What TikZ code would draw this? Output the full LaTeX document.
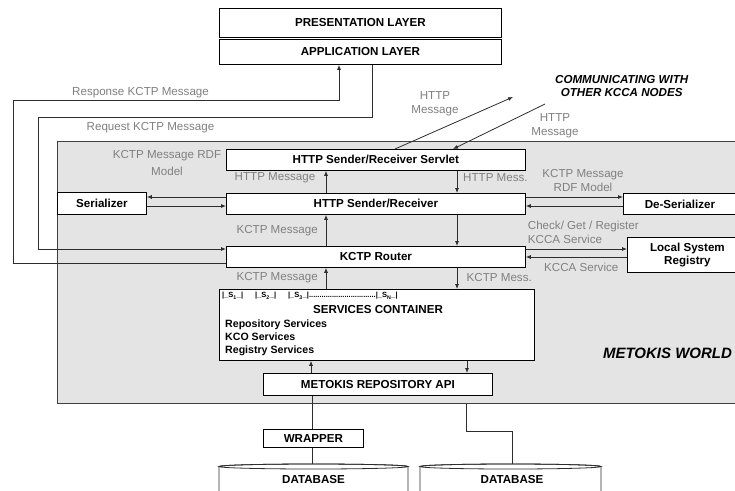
\documentclass[tikz,border=0pt]{standalone}
\usepackage{fontspec}
\setmainfont{Liberation Sans}
\usetikzlibrary{arrows.meta}
\definecolor{worldgray}{RGB}{228,228,228}
\definecolor{lblgray}{RGB}{128,128,128}
\definecolor{linegray}{RGB}{45,45,45}
\newcommand{\svcslot}[1]{|\_S\textsubscript{#1}\_|}
\begin{document}
\begin{tikzpicture}[x=1pt,y=-1pt,
  box/.style={draw=black, line width=0.8pt, fill=white, inner sep=0pt, anchor=north west, align=center,
    font=\bfseries\fontsize{11.6}{13}\selectfont},
  lbl/.style={text=lblgray, inner sep=0pt, align=center, font=\fontsize{11.6}{14}\selectfont},
  arr/.style={draw=linegray, line width=0.8pt, -{Latex[length=5pt,width=4pt]}},
  ln/.style={draw=linegray, line width=0.8pt},
  boldtxt/.style={inner sep=0pt, font=\bfseries\fontsize{11.6}{13}\selectfont},
]
\useasboundingbox (0,0) rectangle (735,490);

% world area
\node[draw=black!75, line width=0.9pt, fill=worldgray, inner sep=0pt, anchor=north west,
  minimum width=700pt, minimum height=262pt] (world) at (57,141) {};

% boxes
\node[box, minimum width=282pt, minimum height=29pt] (pres) at (219,8) {PRESENTATION LAYER};
\node[box, minimum width=282pt, minimum height=25pt] (app) at (219,39) {APPLICATION LAYER};
\node[box, minimum width=299pt, minimum height=21pt] (servlet) at (226,149) {HTTP Sender/Receiver Servlet};
\node[box, minimum width=299pt, minimum height=21pt] (hsr) at (226,193) {HTTP Sender/Receiver};
\node[box, minimum width=299pt, minimum height=21pt] (router) at (226,246) {KCTP Router};
\node[box, minimum width=89pt, minimum height=22pt] (ser) at (57,192) {Serializer};
\node[box, minimum width=113pt, minimum height=21pt] (deser) at (623,193) {De-Serializer};
\node[box, minimum width=120pt, minimum height=35pt] (lsr) at (627,237) {Local System\\Registry};
\node[box, minimum width=315pt, minimum height=71pt] (svc) at (219,289) {};
\node[box, minimum width=229pt, minimum height=22pt] (api) at (263,373) {METOKIS REPOSITORY API};
\node[box, minimum width=100pt, minimum height=18pt] (wrap) at (263,429) {WRAPPER};

% services container contents
\node[anchor=west, inner sep=0pt, font=\bfseries\fontsize{7.5}{9}\selectfont] (srow) at (222,296)
  {\svcslot{1}\hspace{12pt}\svcslot{2}\hspace{12pt}\svcslot{3}................................\svcslot{N}};
\node[boldtxt] (stitle) at (378,310) {SERVICES CONTAINER};
\node[anchor=west, inner sep=0pt, align=left, font=\bfseries\fontsize{10.6}{13}\selectfont] (slist) at (225,338)
  {Repository Services\\KCO Services\\Registry Services};

% databases
\filldraw[ln, fill=white] (219,492) -- (219,466.5) arc[start angle=180, end angle=360, x radius=94.5, y radius=2.5] -- (408,492);
\draw[ln] (313.5,466.5) ellipse [x radius=94.5, y radius=2.5];
\node[boldtxt] (db1) at (313.5,479) {DATABASE};
\filldraw[ln, fill=white] (420,492) -- (420,466.5) arc[start angle=180, end angle=360, x radius=90.5, y radius=2.5] -- (601,492);
\draw[ln] (510.5,466.5) ellipse [x radius=90.5, y radius=2.5];
\node[boldtxt] (db2) at (512,479) {DATABASE};
\coordinate (db1top) at (312,464);
\coordinate (db2top) at (512,464);

% text labels
\node[boldtxt, font=\bfseries\itshape\fontsize{11.6}{13}\selectfont, align=center] (comm) at (621.7,86.5)
  {COMMUNICATING WITH\\OTHER KCCA NODES};
\node[inner sep=0pt, font=\bfseries\itshape\fontsize{15}{18}\selectfont] (mworld) at (667.5,353) {METOKIS WORLD};

\node[lbl, anchor=west] (lResp) at (72,92.5) {Response KCTP Message};
\node[lbl, anchor=west] (lReq) at (86.5,128) {Request KCTP Message};
\node[lbl] (lHttpOut) at (435,104) {HTTP\\Message};
\node[lbl] (lHttpIn) at (555,126) {HTTP\\Message};
\node[lbl, font=\fontsize{11.6}{16.5}\selectfont] (lRdfL) at (167,163) {KCTP Message RDF\\Model};
\node[lbl, anchor=east] (lHttpUp) at (315.5,178) {HTTP Message};
\node[lbl, anchor=west] (lHttpDn) at (463,178) {HTTP Mess.};
\node[lbl, anchor=east] (lK1) at (318,231) {KCTP Message};
\node[lbl, anchor=east] (lK2) at (318,277.5) {KCTP Message};
\node[lbl, anchor=west] (lK3) at (466.5,277.5) {KCTP Mess.};
\node[lbl] (lRdfR) at (583,180.5) {KCTP Message\\RDF Model};
\node[lbl, align=left, anchor=west] (lCheck) at (527.7,232) {Check/ Get / Register\\KCCA Service};
\node[lbl] (lKcca) at (581.3,267) {KCCA Service};

% helper coordinates
\coordinate (xR) at (457,0);
\coordinate (xL) at (326,0);
\coordinate (y1) at (0,197);
\coordinate (y2) at (0,206);
\coordinate (y3) at (0,249);
\coordinate (y4) at (0,257);
\coordinate (yResp) at (0,263);
\coordinate (respL) at (13,100);
\coordinate (xResp) at (339,0);
\coordinate (xReq) at (372,0);
\coordinate (reqL) at (38,117);
\coordinate (yReq) at (0,249);
\coordinate (commOut) at (513,97);
\coordinate (commIn) at (545,104);
\coordinate (xOut) at (395,0);
\coordinate (xIn) at (453,0);
\coordinate (xApiUp) at (311,0);
\coordinate (xApiDn) at (467,0);
\coordinate (xDb) at (312,0);
\coordinate (xW) at (466,0);
\coordinate (dbBend) at (512,431);

% connectors to application layer
\draw[arr] (router.west |- yResp) -| (respL) -| (app.south -| xResp);
\draw[arr] (app.south -| xReq) |- (reqL) |- (router.west |- yReq);

% communication with other nodes
\draw[arr] (servlet.north -| xOut) -- (commOut);
\draw[arr] (commIn) -- (servlet.north -| xIn);

% vertical stack
\draw[arr] (servlet.south -| xR) -- (hsr.north -| xR);
\draw[arr] (hsr.north -| xL) -- (servlet.south -| xL);
\draw[arr] (hsr.south -| xR) -- (router.north -| xR);
\draw[arr] (router.north -| xL) -- (hsr.south -| xL);
\draw[arr] (router.south -| xR) -- (svc.north -| xR);
\draw[arr] (svc.north -| xL) -- (router.south -| xL);
\draw[arr] (api.north -| xApiUp) -- (svc.south -| xApiUp);
\draw[arr] (svc.south -| xApiDn) -- (api.north -| xApiDn);

% serializer / de-serializer / registry
\draw[arr] (hsr.west |- y1) -- (ser.east |- y1);
\draw[arr] (ser.east |- y2) -- (hsr.west |- y2);
\draw[arr] (hsr.east |- y1) -- (deser.west |- y1);
\draw[arr] (deser.west |- y2) -- (hsr.east |- y2);
\draw[arr] (router.east |- y3) -- (lsr.west |- y3);
\draw[arr] (lsr.west |- y4) -- (router.east |- y4);

% repository to databases
\draw[ln] (api.south -| xDb) -- (wrap.north -| xDb);
\draw[ln] (wrap.south -| xDb) -- (db1top);
\draw[ln] (world.south -| xW) |- (dbBend) -- (db2top);
\end{tikzpicture}
\end{document}
